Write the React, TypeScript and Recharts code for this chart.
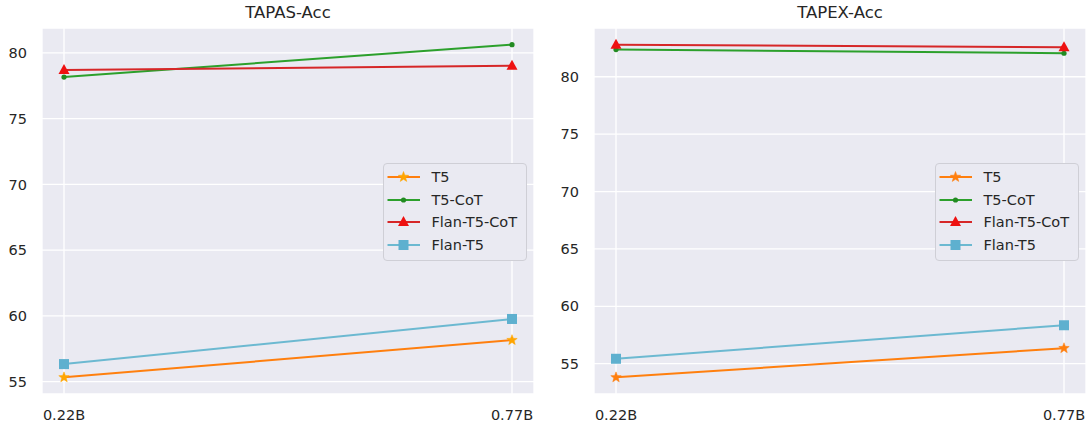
import React from 'react'
import { LineChart, Line, XAxis, YAxis, CartesianGrid, Legend } from 'recharts'

const categories = ['0.22B', '0.77B']
const seriesNames = ['T5', 'T5-CoT', 'Flan-T5-CoT', 'Flan-T5']

const tapasT5 = [55.33, 58.16]
const tapasT5CoT = [78.16, 80.63]
const tapasFlanCoT = [78.71, 79.02]
const tapasFlan = [56.34, 59.77]

const tapexT5 = [53.81, 56.35]
const tapexT5CoT = [82.37, 82.05]
const tapexFlanCoT = [82.8, 82.57]
const tapexFlan = [55.43, 58.35]

const yTicks = [55, 60, 65, 70, 75, 80]

const FONT = '"DejaVu Sans", sans-serif'
const TEXT = '#262626'
const BG = '#EAEAF2'

const lineColors = ['#ff7f0e', '#2ca02c', '#d62728', '#6cb9d1']
const markerColors = ['#ffa500', '#228b22', '#ee1111', '#5eb0cf']

function starPoints(cx: number, cy: number, r: number) {
  const pts: string[] = []
  for (let i = 0; i < 10; i++) {
    const rad = i % 2 === 0 ? r : r * 0.42
    const a = -Math.PI / 2 + (i * Math.PI) / 5
    pts.push(`${cx + rad * Math.cos(a)},${cy + rad * Math.sin(a)}`)
  }
  return pts.join(' ')
}

function Marker({ kind, cx, cy, color }: { kind: number; cx: number; cy: number; color: string }) {
  if (kind === 0) return <polygon points={starPoints(cx, cy, 5.5)} fill={color} stroke={color} strokeWidth={0.5} />
  if (kind === 1) return <circle cx={cx} cy={cy} r={2.6} fill={color} />
  if (kind === 2)
    return <polygon points={`${cx},${cy - 6} ${cx - 5.5},${cy + 4} ${cx + 5.5},${cy + 4}`} fill={color} />
  return <rect x={cx - 5} y={cy - 5} width={10} height={10} fill={color} />
}

function makeDot(kind: number, color: string) {
  return (props: any) => {
    const { cx, cy, index } = props
    if (cx == null || cy == null) return <g key={index} />
    return (
      <g key={`${kind}-${index}`}>
        <Marker kind={kind} cx={cx} cy={cy} color={color} />
      </g>
    )
  }
}

function LegendBox({ starColor }: { starColor: string }) {
  return (
    <div
      style={{
        width: 142,
        height: 94,
        border: '1px solid #cfcfd6',
        borderRadius: 4,
        background: BG,
        fontFamily: FONT,
        fontSize: 14.5,
        color: TEXT,
        paddingTop: 1.5,
        boxSizing: 'content-box',
      }}
    >
      {seriesNames.map((name, i) => (
        <div key={name} style={{ height: 22.7, display: 'flex', alignItems: 'center' }}>
          <svg width={47.5} height={22} style={{ flex: 'none' }}>
            <line x1={3.5} x2={36} y1={11} y2={11} stroke={lineColors[i]} strokeWidth={2} />
            <Marker kind={i} cx={19.5} cy={11} color={i === 0 ? starColor : markerColors[i]} />
          </svg>
          <span style={{ whiteSpace: 'nowrap', lineHeight: '16px' }}>{name}</span>
        </div>
      ))}
    </div>
  )
}

function Panel({
  title,
  series,
  left,
  width,
  yWidth,
  rightMargin,
  legendLeft,
  starColor,
}: {
  title: string
  series: number[][]
  left: number
  width: number
  yWidth: number
  rightMargin: number
  legendLeft: number
  starColor: string
}) {
  const data = categories.map((c, i) => ({
    name: c,
    s0: series[0][i],
    s1: series[1][i],
    s2: series[2][i],
    s3: series[3][i],
  }))
  const all = series.flat()
  const lo = Math.min(...all)
  const hi = Math.max(...all)
  const pad = (hi - lo) * 0.05
  const plotW = width - yWidth - rightMargin
  const order = [3, 0, 1, 2]

  return (
    <div style={{ position: 'absolute', left, top: 0, width, height: 427 }}>
      <div
        style={{
          position: 'absolute',
          top: 5,
          left: yWidth,
          width: plotW,
          textAlign: 'center',
          fontFamily: FONT,
          fontSize: 16.5,
          lineHeight: '16px',
          color: TEXT,
        }}
      >
        {title}
      </div>
      <LineChart width={width} height={427} data={data} margin={{ top: 28, right: rightMargin, bottom: 0, left: 0 }}>
        <CartesianGrid stroke="#ffffff" strokeWidth={1.3} fill={BG} />
        <XAxis
          dataKey="name"
          padding={{ left: 22, right: 22 }}
          axisLine={false}
          tickLine={false}
          tickSize={0}
          tickMargin={16}
          height={33}
          tick={{ fontSize: 14.5, fill: TEXT, fontFamily: FONT }}
        />
        <YAxis
          type="number"
          domain={[lo - pad, hi + pad]}
          ticks={yTicks}
          allowDataOverflow
          width={yWidth}
          axisLine={false}
          tickLine={false}
          tickSize={0}
          tickMargin={15}
          tick={{ fontSize: 14.5, fill: TEXT, fontFamily: FONT }}
        />
        <Legend
          layout="vertical"
          align="center"
          verticalAlign="middle"
          wrapperStyle={{ left: legendLeft, top: 163, width: 144, height: 96 }}
          content={() => <LegendBox starColor={starColor} />}
        />
        {order.map((k) => (
          <Line
            key={k}
            type="linear"
            dataKey={`s${k}`}
            name={seriesNames[k]}
            stroke={lineColors[k]}
            strokeWidth={2}
            dot={makeDot(k, k === 0 ? starColor : markerColors[k])}
            activeDot={false}
            isAnimationActive={false}
          />
        ))}
      </LineChart>
    </div>
  )
}

export default function App() {
  return (
    <div style={{ position: 'absolute', left: 0, top: 0, width: 1089, height: 427, background: '#ffffff' }}>
      <Panel
        title="TAPAS-Acc"
        series={[tapasT5, tapasT5CoT, tapasFlanCoT, tapasFlan]}
        left={0}
        width={545}
        yWidth={42}
        rightMargin={11}
        legendLeft={383}
        starColor="#ffa500"
      />
      <Panel
        title="TAPEX-Acc"
        series={[tapexT5, tapexT5CoT, tapexFlanCoT, tapexFlan]}
        left={545}
        width={544}
        yWidth={49}
        rightMargin={3}
        legendLeft={390}
        starColor="#ff7f0e"
      />
    </div>
  )
}
